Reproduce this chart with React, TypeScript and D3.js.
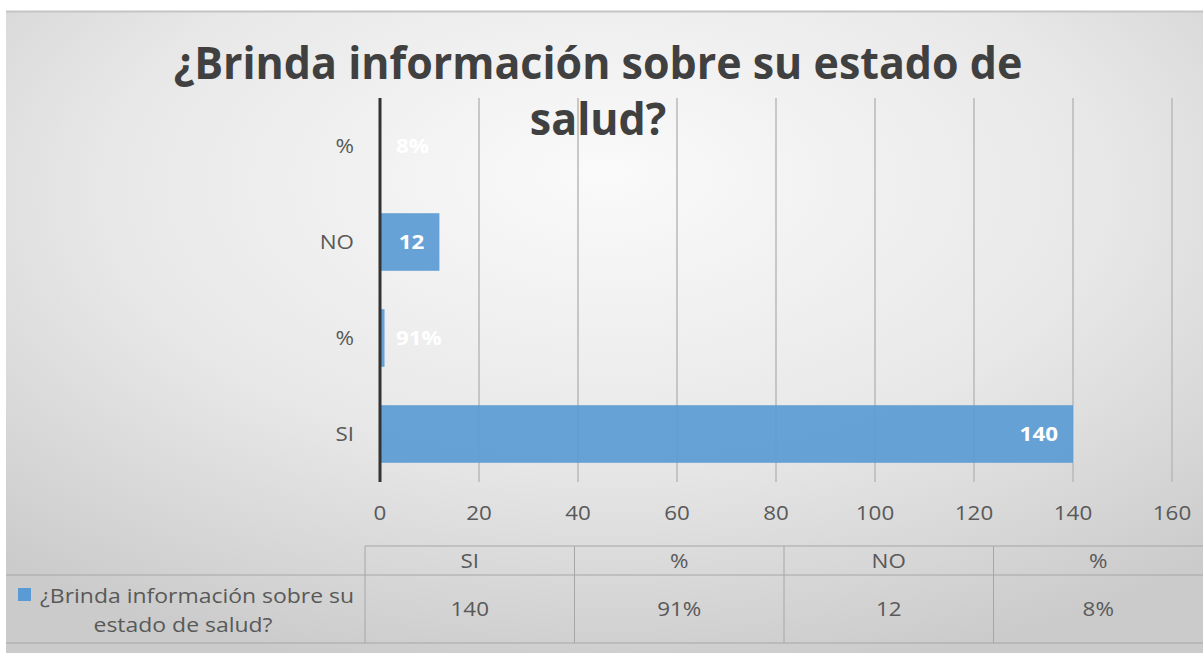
import React from "react";
import * as d3 from "d3";

const categories = ["SI", "%", "NO", "%"];
const values = [140, 0.91, 12, 0.08];
const valueLabels = ["140", "91%", "12", "8%"];
const xTicks = [0, 20, 40, 60, 80, 100, 120, 140, 160];
const seriesName = "¿Brinda información sobre su estado de salud?";
const titleLines = ["¿Brinda información sobre su estado de", "salud?"];
const legendLines = ["¿Brinda información sobre su", "estado de salud?"];

const W = 1203;
const H = 653;
const FONT = "'Open Sans', Lato, sans-serif";
const LABEL = "#595959";

type TxtProps = {
  x: number;
  y: number;
  anchor?: "start" | "middle" | "end";
  size: number;
  bold?: boolean;
  fill?: string;
  sx?: number;
  children: React.ReactNode;
};

function Txt({ x, y, anchor = "middle", size, bold, fill = LABEL, sx = 1.12, children }: TxtProps) {
  return (
    <text
      transform={`translate(${x},${y}) scale(${sx},1)`}
      dy="0.35em"
      textAnchor={anchor}
      fontFamily={FONT}
      fontWeight={bold ? 700 : 400}
      fontSize={size}
      fill={fill}
    >
      {children}
    </text>
  );
}

export default function App() {
  const x = d3.scaleLinear().domain([0, 160]).range([380, 1172]);
  const y = d3
    .scaleBand<string>()
    .domain(categories.map((c, i) => `${i}`).reverse())
    .range([98, 482])
    .paddingInner(0.4)
    .paddingOuter(0.2);

  const tableLeft = 365;
  const colW = (W - tableLeft) / categories.length;
  const tableTop = 546;
  const rowLine = 575;
  const tableBottom = 643;

  return (
    <div style={{ position: "absolute", left: 0, top: 0, width: W, height: H, overflow: "hidden" }}>
      <svg width={W} height={H} style={{ display: "block" }}>
        <title>{seriesName}</title>
        <defs>
          <radialGradient id="bg" cx="50%" cy="30%" r="75%" fx="50%" fy="25%">
            <stop offset="0%" stopColor="#fafafa" />
            <stop offset="55%" stopColor="#e8e8e8" />
            <stop offset="100%" stopColor="#cbcbcb" />
          </radialGradient>
        </defs>
        <rect x={0} y={0} width={W} height={H} fill="#ffffff" />
        <rect x={6} y={11} width={W - 6} height={H - 11} fill="url(#bg)" />
        <line x1={6} x2={W} y1={11.5} y2={11.5} stroke="#c4c4c4" strokeWidth={2} />

        {xTicks.slice(1).map((t) => (
          <line key={t} x1={x(t)} x2={x(t)} y1={98} y2={482} stroke="#b8b8b8" strokeWidth={1.5} />
        ))}

        {titleLines.map((l, i) => (
          <text
            key={i}
            transform={`translate(598,${79 + i * 56}) scale(0.955,1)`}
            textAnchor="middle"
            fontFamily={FONT}
            fontWeight={700}
            fontSize={45}
            fill="#404040"
          >
            {l}
          </text>
        ))}

        {values.map((v, i) => {
          const y0 = y(`${i}`)!;
          const bw = y.bandwidth();
          const x0 = x(0);
          const x1 = x(v);
          const fits = x1 - x0 > 50;
          return (
            <g key={i}>
              <rect x={x0} y={y0} width={x1 - x0} height={bw} fill="#5b9bd5" fillOpacity={0.92} />
              <Txt
                x={fits ? x1 - 15 : x0 + 16}
                y={y0 + bw / 2}
                anchor={fits ? "end" : "start"}
                size={20}
                bold
                fill="#ffffff"
              >
                {valueLabels[i]}
              </Txt>
              <Txt x={354} y={y0 + bw / 2} anchor="end" size={20}>
                {categories[i]}
              </Txt>
            </g>
          );
        })}

        <line x1={x(0)} x2={x(0)} y1={98} y2={482} stroke="#333333" strokeWidth={3} />

        {xTicks.map((t) => (
          <Txt key={t} x={x(t)} y={513} size={20}>
            {t}
          </Txt>
        ))}

        <line x1={tableLeft} x2={W} y1={tableTop} y2={tableTop} stroke="#a6a6a6" strokeWidth={1} />
        <line x1={6} x2={W} y1={rowLine} y2={rowLine} stroke="#a6a6a6" strokeWidth={1} />
        <line x1={6} x2={W} y1={tableBottom} y2={tableBottom} stroke="#a6a6a6" strokeWidth={1} />
        {categories.map((c, i) => (
          <g key={i}>
            <line
              x1={tableLeft + i * colW}
              x2={tableLeft + i * colW}
              y1={tableTop}
              y2={tableBottom}
              stroke="#a6a6a6"
              strokeWidth={1}
            />
            <Txt x={tableLeft + (i + 0.5) * colW} y={561} size={20}>
              {c}
            </Txt>
            <Txt x={tableLeft + (i + 0.5) * colW} y={609} size={20}>
              {valueLabels[i]}
            </Txt>
          </g>
        ))}
        <rect x={18} y={588} width={13} height={13} fill="#5b9bd5" />
        {legendLines.map((l, i) => (
          <Txt key={i} x={i === 0 ? 197 : 183} y={i === 0 ? 596 : 625} size={20.5}>
            {l}
          </Txt>
        ))}
      </svg>
    </div>
  );
}
